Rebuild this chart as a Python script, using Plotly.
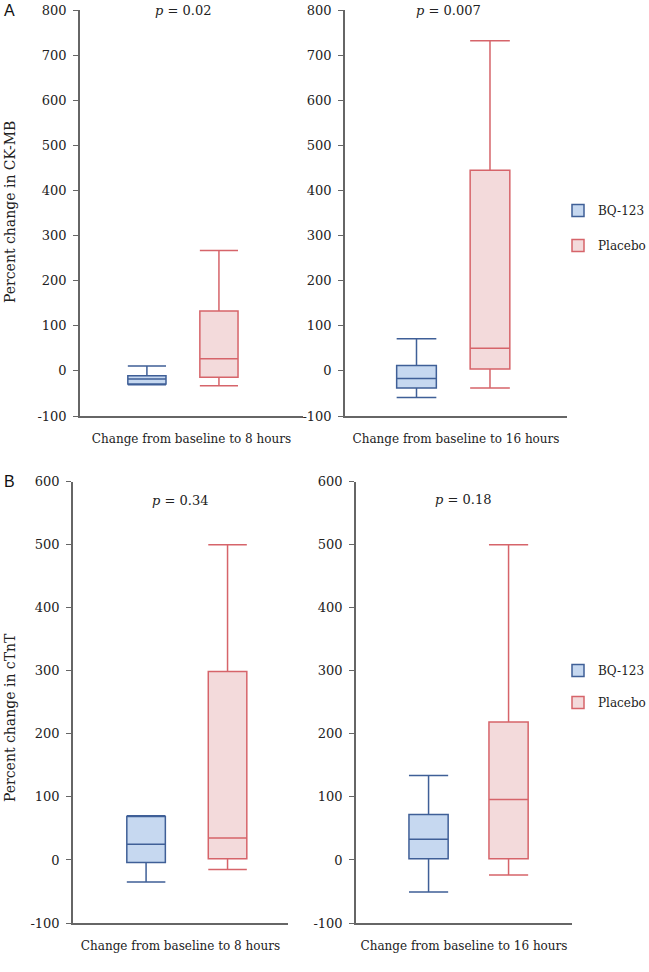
import plotly.graph_objects as go

groups = ["BQ-123", "Placebo"]

# [lowerfence, q1, median, q3, upperfence] per group
ckmb_8h = {"BQ-123": [-31, -29, -18, -11, 11], "Placebo": [-33, -14, 27, 133, 267]}
ckmb_16h = {"BQ-123": [-59, -38, -17, 12, 71], "Placebo": [-38, 4, 50, 445, 732]}
ctnt_8h = {"BQ-123": [-35, -4, 25, 69, 70], "Placebo": [-15, 2, 35, 299, 500]}
ctnt_16h = {"BQ-123": [-51, 2, 33, 72, 134], "Placebo": [-24, 2, 96, 219, 500]}

p_values = ["0.02", "0.007", "0.34", "0.18"]
x_titles = ["Change from baseline to 8 hours", "Change from baseline to 16 hours",
            "Change from baseline to 8 hours", "Change from baseline to 16 hours"]
y_titles = ["Percent change in CK-MB", "Percent change in cTnT"]
ck_ticks = list(range(-100, 801, 100))
tn_ticks = list(range(-100, 601, 100))

W, H = 649, 972
FONT = "DejaVu Serif"
AX = "#666666"
TXT = "#222222"
line_col = {"BQ-123": "#3f5f97", "Placebo": "#d6646a"}
fill_col = {"BQ-123": "#c6d8f0", "Placebo": "#f3dadb"}

def px(x):
    return x / W

def py(y):
    return 1 - y / H

# panel geometry: (x0, x1, ytop, ybottom, xrange, boxwidth)
panels = [
    (80, 303, 10, 416, [-0.929, 2.167], 0.53),
    (345, 567, 10, 416, [-0.973, 2.048], 0.54),
    (73, 288, 481.7, 923, [-0.897, 1.742], 0.473),
    (356, 572, 481.7, 923, [-0.907, 1.793], 0.49),
]
datasets = [ckmb_8h, ckmb_16h, ctnt_8h, ctnt_16h]

fig = go.Figure()
for i, (data, pan) in enumerate(zip(datasets, panels)):
    xa = "x" if i == 0 else f"x{i+1}"
    ya = "y" if i == 0 else f"y{i+1}"
    for g in groups:
        lf, q1, med, q3, uf = data[g]
        fig.add_trace(go.Box(
            x=[g], lowerfence=[lf], q1=[q1], median=[med], q3=[q3], upperfence=[uf],
            name=g, xaxis=xa, yaxis=ya,
            line=dict(color=line_col[g], width=1.5),
            fillcolor=fill_col[g], width=pan[5], whiskerwidth=1,
            showlegend=(i in (0, 2)), legend=("legend" if i < 2 else "legend2"),
            legendgroup=g + str(i // 2), boxpoints=False,
        ))

layout = dict(
    template="none",
    width=W, height=H, margin=dict(l=0, r=0, t=0, b=0, autoexpand=False),
    paper_bgcolor="white", plot_bgcolor="white",
    font=dict(family=FONT, size=12, color=TXT),
    boxmode="overlay",
    legend=dict(x=px(558), y=py(196), xanchor="left", yanchor="top",
                font=dict(family=FONT, size=12, color=TXT), tracegroupgap=16,
                itemwidth=30, bgcolor="rgba(0,0,0,0)"),
    legend2=dict(x=px(558), y=py(656), xanchor="left", yanchor="top",
                 font=dict(family=FONT, size=12, color=TXT), tracegroupgap=13,
                 itemwidth=30, bgcolor="rgba(0,0,0,0)"),
)
annotations = []
for i, pan in enumerate(panels):
    x0, x1, yt, yb, xr, _ = pan
    sfx = "" if i == 0 else str(i + 1)
    ticks = ck_ticks if i < 2 else tn_ticks
    layout["xaxis" + sfx] = dict(
        domain=[px(x0), px(x1)], anchor="y" + sfx, type="category",
        range=xr, showticklabels=False, ticks="", showgrid=False, zeroline=False,
        showline=True, linecolor=AX, linewidth=1.5, automargin=False,
        title=dict(text=x_titles[i], font=dict(family=FONT, size=12, color=TXT), standoff=18),
        fixedrange=True,
    )
    layout["yaxis" + sfx] = dict(
        domain=[py(yb), py(yt)], anchor="x" + sfx,
        range=[ticks[0], ticks[-1]], tickvals=ticks, ticktext=[str(t) for t in ticks],
        ticks="outside", ticklen=5, tickcolor=AX, tickwidth=1.2, ticklabelstandoff=4,
        showgrid=False, zeroline=False, showline=True, linecolor=AX, linewidth=1.5,
        tickfont=dict(family=FONT, size=13, color=TXT), automargin=False,
        fixedrange=True,
    )
    ptext_y = [10, 10, 501, 499][i]
    ptext_x = [183, 448, 180, 463][i]
    annotations.append(dict(
        text=f"<i>p</i> = {p_values[i]}", x=px(ptext_x), y=py(ptext_y),
        xref="paper", yref="paper", showarrow=False, xanchor="center", yanchor="middle",
        font=dict(family=FONT, size=13, color=TXT),
    ))

annotations.append(dict(text=y_titles[0], x=px(10), y=py(212), xref="paper", yref="paper",
                        showarrow=False, textangle=-90, xanchor="center", yanchor="middle",
                        font=dict(family=FONT, size=14, color=TXT)))
annotations.append(dict(text=y_titles[1], x=px(10), y=py(718), xref="paper", yref="paper",
                        showarrow=False, textangle=-90, xanchor="center", yanchor="middle",
                        font=dict(family=FONT, size=14, color=TXT)))
annotations.append(dict(text="A", x=px(9), y=py(10), xref="paper", yref="paper",
                        showarrow=False, xanchor="center", yanchor="middle",
                        font=dict(family="Liberation Sans", size=16, color="#111")))
annotations.append(dict(text="B", x=px(9), y=py(481), xref="paper", yref="paper",
                        showarrow=False, xanchor="center", yanchor="middle",
                        font=dict(family="Liberation Sans", size=16, color="#111")))
layout["annotations"] = annotations

fig.update_layout(**layout)
fig.write_html("out.html", config={"displayModeBar": False},
               post_script="document.body.style.margin='0';")
